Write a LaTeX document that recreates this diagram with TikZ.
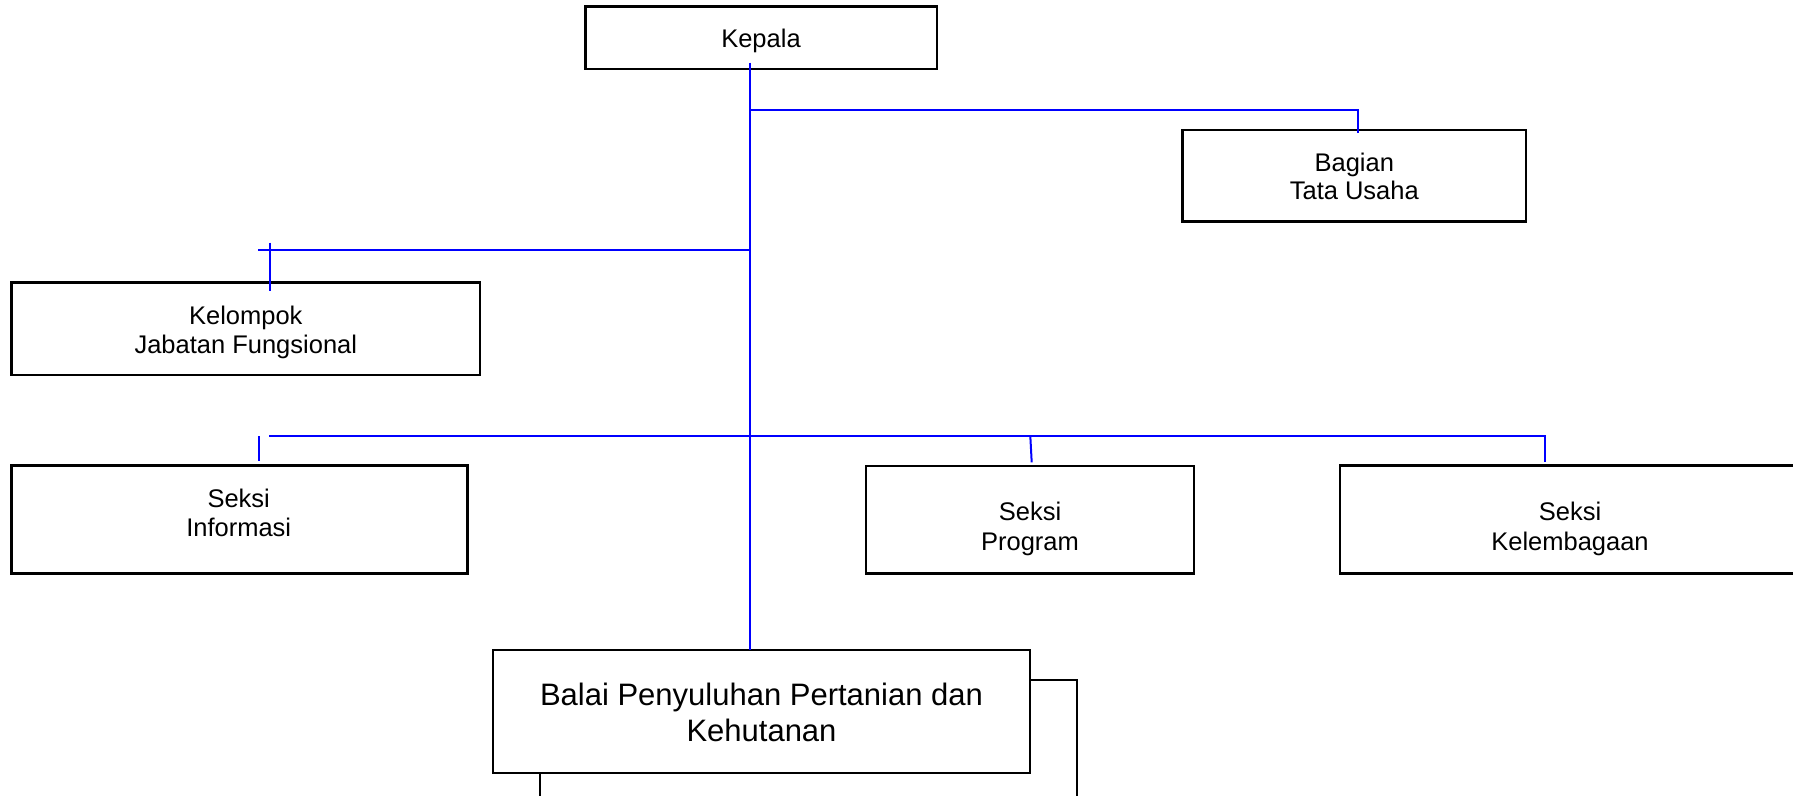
\documentclass[tikz,border=0pt]{standalone}
\usepackage{fontspec}
\setmainfont{Liberation Sans}
\definecolor{lineblue}{RGB}{0,0,255}
\begin{document}
\begin{tikzpicture}[x=1pt,y=-1pt,
  box/.style={draw=black, line width=2.5pt, rectangle, inner sep=0pt, outer sep=0pt, fill=white},
  txt/.style={anchor=base, inner sep=0pt, font=\fontsize{25.5}{29}\selectfont},
  bigtxt/.style={anchor=base, inner sep=0pt, font=\fontsize{31}{36}\selectfont},
  conn/.style={draw=lineblue, line width=2pt},
  blk/.style={draw=black, line width=2pt}]
\useasboundingbox (0,0) rectangle (1793,795);
\clip (0,0) rectangle (1793,795);
\fill[white] (0,0) rectangle (1793,795);

% boxes
\node[box, minimum width=351.3pt, minimum height=62.3pt] (kepala) at (761.35,37.85) {};
\node[box, minimum width=343.3pt, minimum height=91.7pt] (bagian) at (1354.35,175.85) {};
\node[box, minimum width=468.3pt, minimum height=92.3pt] (kelompok) at (245.85,328.85) {};
\node[box, minimum width=455.6pt, minimum height=107.6pt] (informasi) at (239.5,519.5) {};
\node[box, minimum width=328pt, minimum height=107.3pt] (program) at (1030,519.65) {};
\node[box, minimum width=460pt, minimum height=107.6pt] (kelembagaan) at (1570,519.5) {};
\node[box, line width=2pt, minimum width=537pt, minimum height=140pt] (balaiback) at (808.2,750) {};
\node[box, line width=2.2pt, minimum width=537.6pt, minimum height=123.3pt] (balai) at (761.5,711.65) {};

% texts
\node[txt] (tKepala) at (761,47.7) {Kepala};
\node[txt] (tBagian1) at (1354.3,171) {Bagian};
\node[txt] (tBagian2) at (1354.3,199) {Tata Usaha};
\node[txt] (tKel1) at (245.8,324.3) {Kelompok};
\node[txt] (tKel2) at (245.8,353.3) {Jabatan Fungsional};
\node[txt] (tInf1) at (238.7,507.3) {Seksi};
\node[txt] (tInf2) at (238.7,536.7) {Informasi};
\node[txt] (tPro1) at (1030,520.7) {Seksi};
\node[txt] (tPro2) at (1030,550) {Program};
\node[txt] (tLem1) at (1570,520.7) {Seksi};
\node[txt] (tLem2) at (1570,550) {Kelembagaan};
\node[bigtxt] (tBal1) at (761.5,705) {Balai Penyuluhan Pertanian dan};
\node[bigtxt] (tBal2) at (761.5,741) {Kehutanan};

% connector points
\coordinate (kStart) at (749.7,62.7);
\coordinate (jBag) at (749.7,110);
\coordinate (bagIn) at (1357.7,133.3);
\coordinate (jKel) at (749.7,250);
\coordinate (kelL) at (258.3,250);
\coordinate (kelTickTop) at (270,242.7);
\coordinate (kelTickBot) at (270,290.7);
\coordinate (sL) at (269.3,436);
\coordinate (sR) at (1545,462.3);
\coordinate (infTop) at (259,436.3);
\coordinate (infBot) at (259,461);
\coordinate (proTop) at (1030.3,436);
\coordinate (proBot) at (1031.7,462.3);

% connectors
\draw[conn] (kStart) -- (kStart |- balai.north);
\draw[conn] (jBag) -| (bagIn);
\draw[conn] (jKel) -- (kelL);
\draw[conn] (kelTickTop) -- (kelTickBot);
\draw[conn] (sL) -| (sR);
\draw[conn] (infTop) -- (infBot);
\draw[conn] (proTop) -- (proBot);
\end{tikzpicture}
\end{document}
